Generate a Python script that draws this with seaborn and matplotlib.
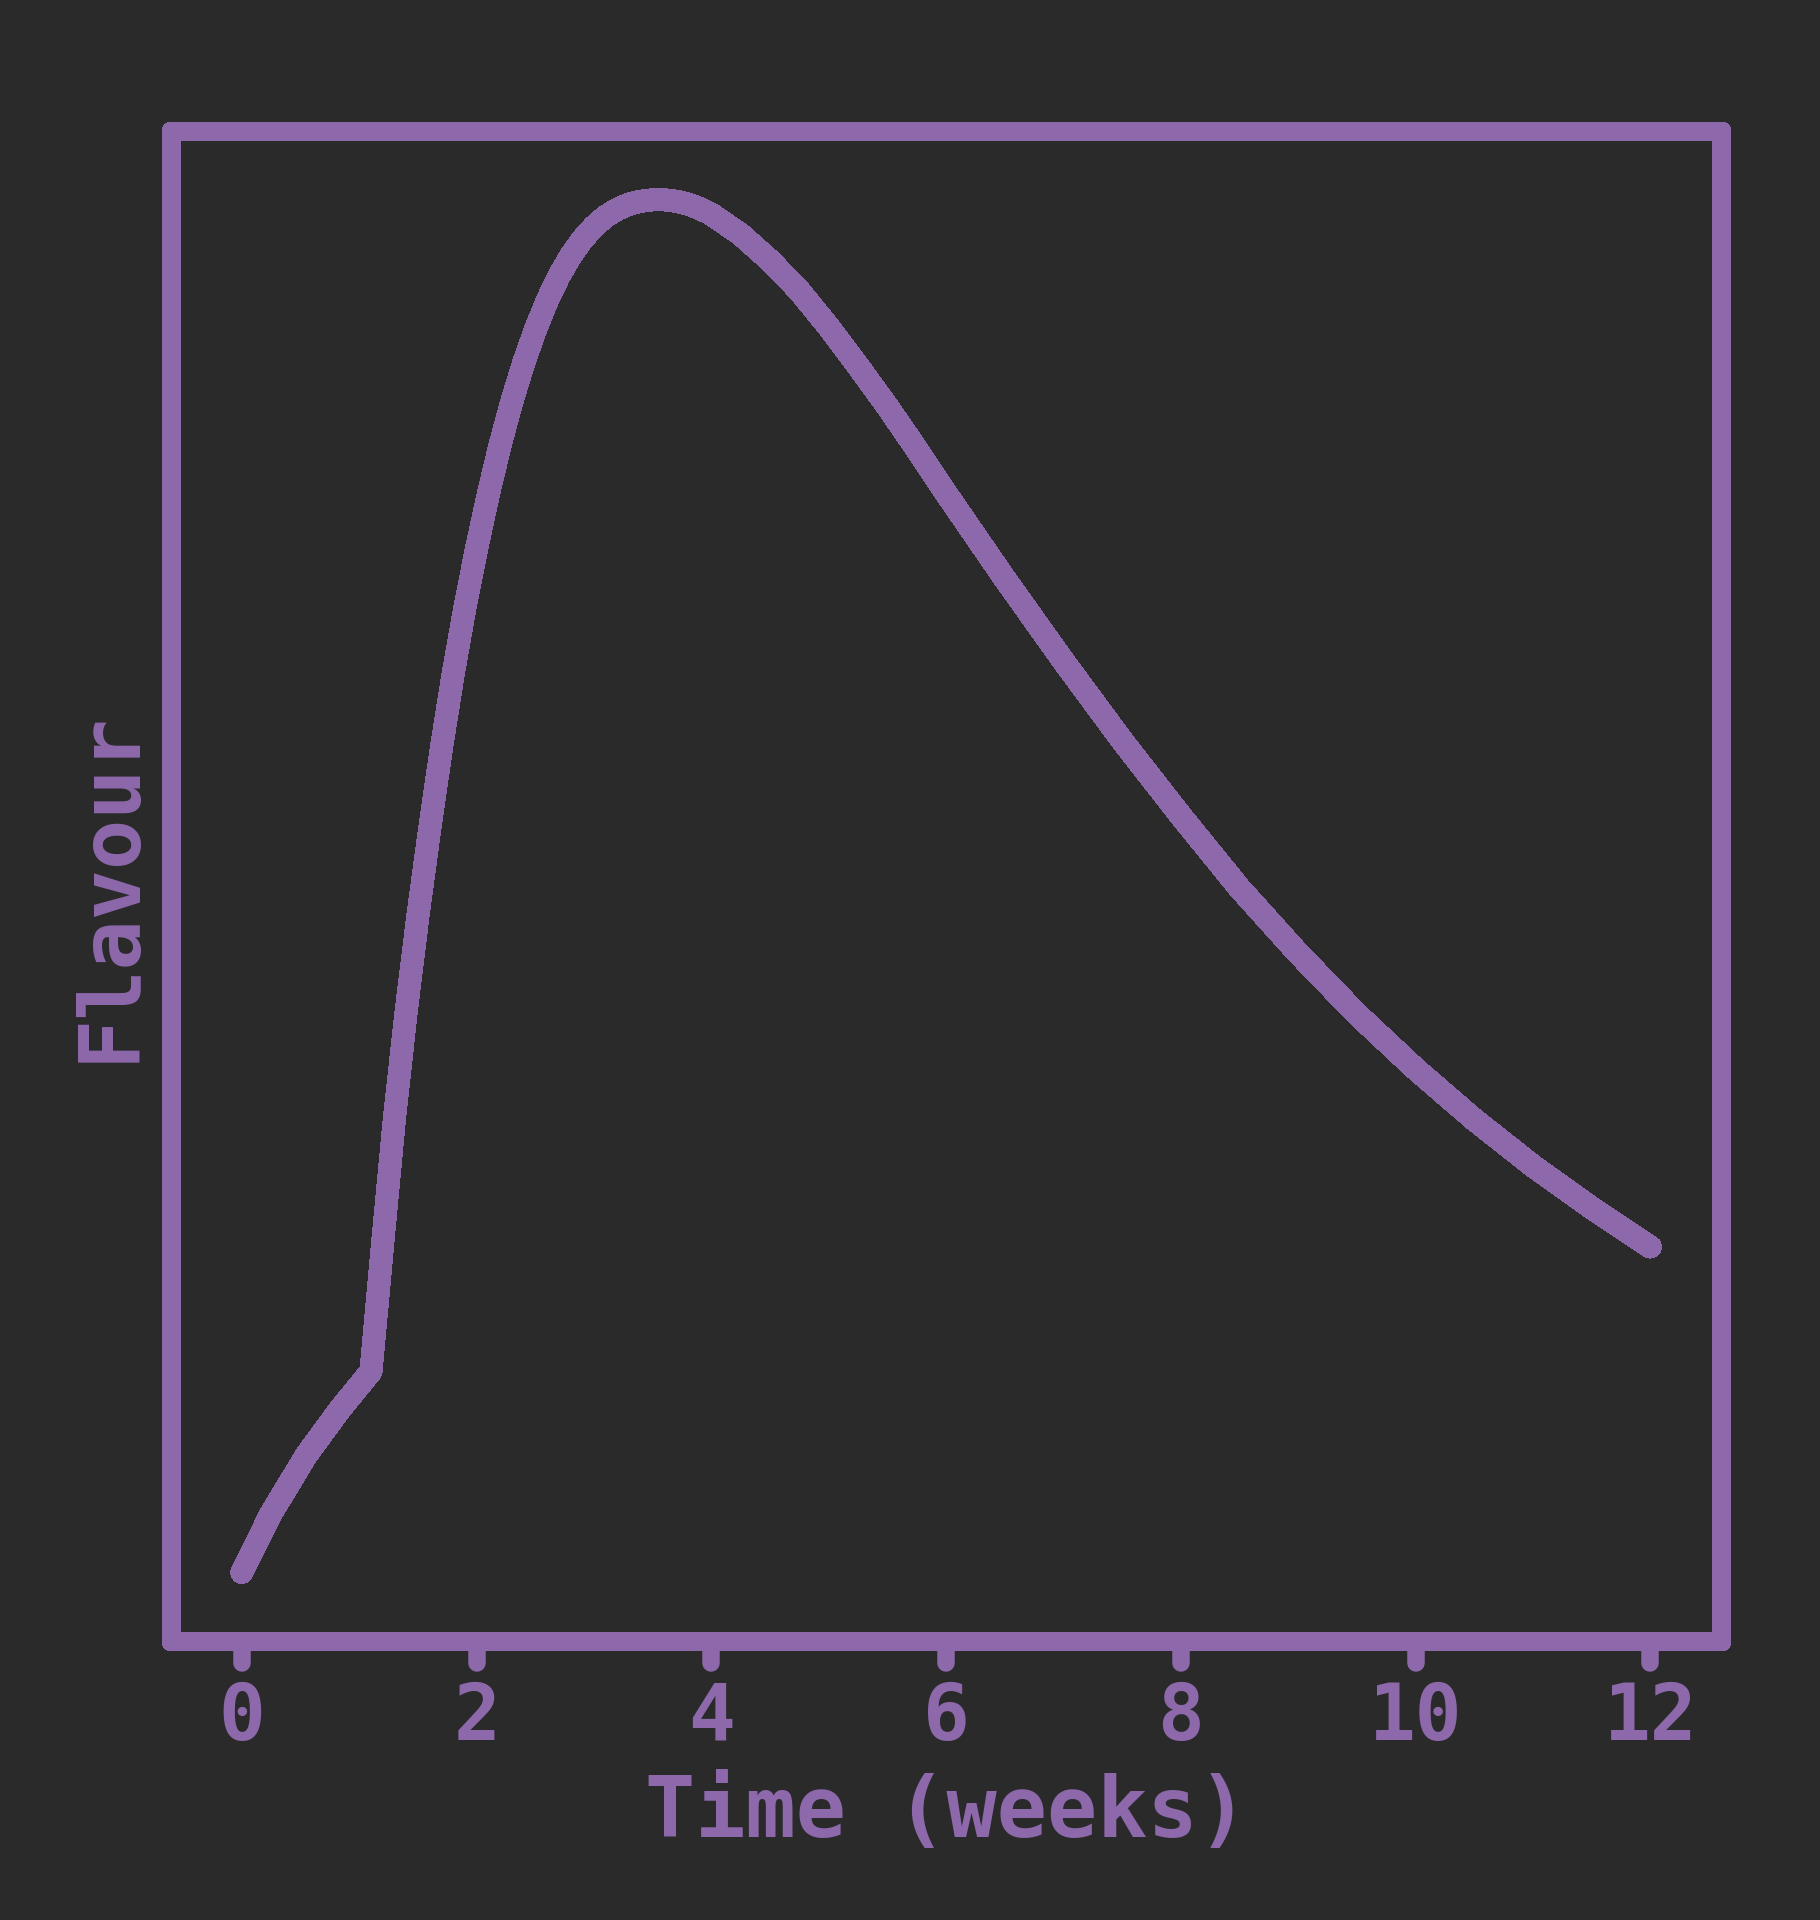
import os
import pandas as pd
import matplotlib
matplotlib.use("Agg")
import matplotlib.pyplot as plt
import matplotlib.lines as mlines
from matplotlib.markers import MarkerStyle
from matplotlib.font_manager import FontProperties
import seaborn as sns

# values (flavour in arbitrary units)
weeks = [0.0, 0.251, 0.549, 0.838, 1.1, 1.2, 1.3, 1.4, 1.5, 1.6, 1.7, 1.8,
         1.9, 2.0, 2.1, 2.2, 2.3, 2.4, 2.5, 2.6, 2.7, 2.8, 2.9, 3.0, 3.1,
         3.2, 3.3, 3.4, 3.5, 3.6, 3.7, 3.8, 3.9, 4.0, 4.25, 4.5, 4.75, 5.0,
         5.25, 5.5, 5.75, 6.0, 6.5, 7.0, 7.5, 8.0, 8.5, 9.0, 9.5, 10.0,
         10.5, 11.0, 11.5, 12.0]
flavour = [4.8, 8.9, 12.9, 16.1, 18.7, 27.6, 36.2, 43.6, 50.2, 56.2, 61.8, 66.9,
           71.5, 75.6, 79.35, 82.75, 85.75, 88.4, 90.7, 92.7, 94.4, 95.8, 96.95, 97.85, 98.55,
           99.05, 99.4, 99.6, 99.7, 99.7, 99.6, 99.4, 99.1, 98.7, 97.3, 95.5, 93.4, 90.9,
           88.2, 85.4, 82.45, 79.4, 73.5, 67.8, 62.3, 57.1, 52.1, 47.6, 43.4, 39.6,
           36.1, 32.9, 30.0, 27.3]
xticks = [0, 2, 4, 6, 8, 10, 12]

purple = "#8d68ab"
bg = "#2a2a2a"

sns.set_theme(style="dark", rc={"axes.facecolor": bg, "figure.facecolor": bg})
plt.rcParams["font.family"] = ["DejaVu Sans Mono", "DejaVu Sans"]
plt.rcParams["font.weight"] = "bold"
plt.rcParams["lines.antialiased"] = False
plt.rcParams["patch.antialiased"] = False

mono_bold = os.path.join(matplotlib.get_data_path(), "fonts", "ttf", "DejaVuSansMono-Bold.ttf")
tick_font = FontProperties(fname=mono_bold, size=28)
label_font = FontProperties(fname=mono_bold, size=30)

df = pd.DataFrame({"Time (weeks)": weeks, "Flavour": flavour})

fig = plt.figure(figsize=(9.1, 9.6), dpi=200)
ax = fig.add_axes([0.0942, 0.1453, 0.8513, 0.7864])

sns.lineplot(data=df, x="Time (weeks)", y="Flavour", ax=ax, color=purple,
             linewidth=8, solid_capstyle="round", solid_joinstyle="round")

for sp in ax.spines.values():
    sp.set_visible(True)
    sp.set_color(purple)
    sp.set_linewidth(6.8)
    sp.set_capstyle("round")

ax.grid(False)
ax.set_xticks(xticks)
ax.set_yticks([])
ax.tick_params(axis="x", bottom=True, length=8, width=6.3, color=purple,
               labelcolor=purple, pad=6)
for lab in ax.get_xticklabels():
    lab.set_fontproperties(tick_font)
for t in ax.xaxis.get_major_ticks():
    t.tick1line.set_marker(MarkerStyle(mlines.TICKDOWN, capstyle="round"))

ax.set_xlabel("Time (weeks)", color=purple, fontproperties=label_font, labelpad=6)
ax.set_ylabel("Flavour", color=purple, fontproperties=label_font, labelpad=7.5)

fig.savefig("out.png", dpi=200, facecolor=bg)
